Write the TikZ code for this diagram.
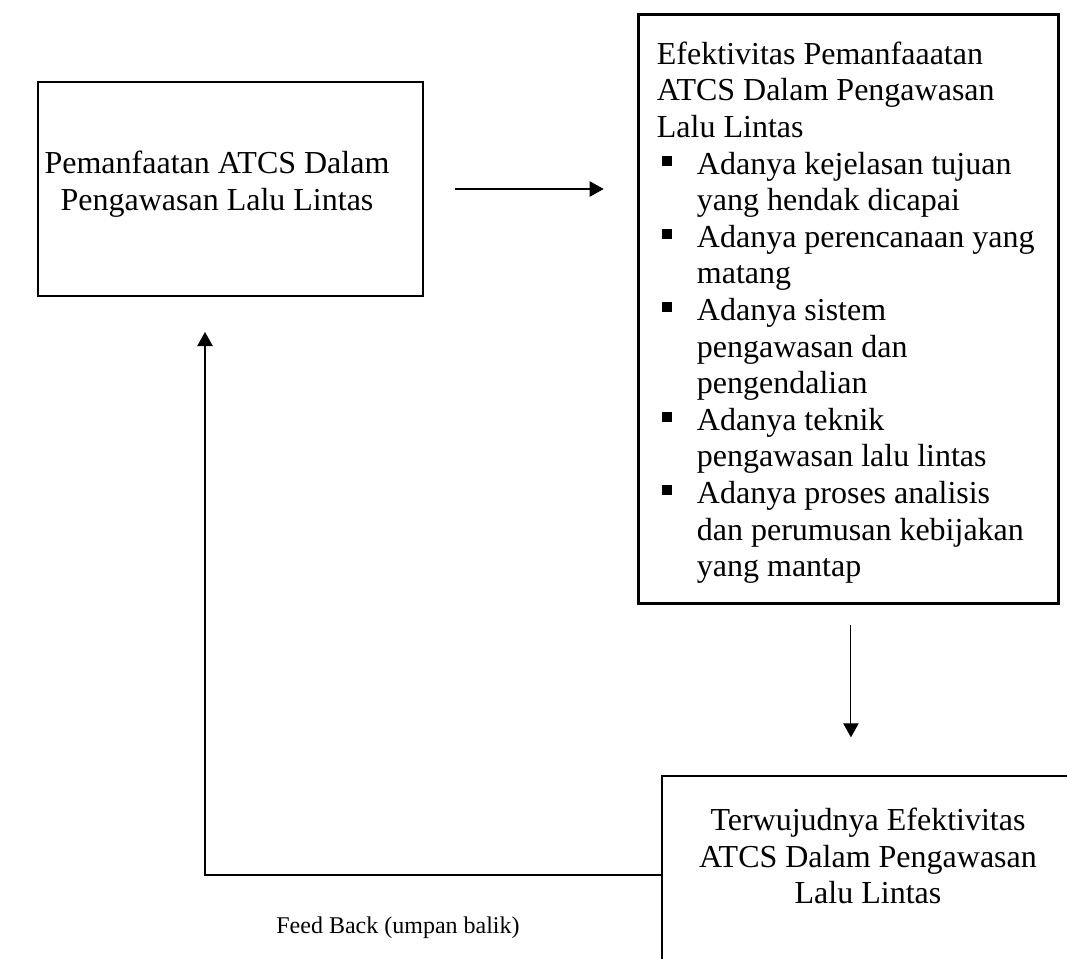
\documentclass[tikz,border=0pt]{standalone}
\usepackage{fontspec}
\setmainfont{Liberation Serif}
\usetikzlibrary{positioning,arrows.meta,calc}
\newcommand{\besar}{\fontsize{24pt}{27.45pt}\selectfont}
\newcommand{\kecil}{\fontsize{18pt}{21pt}\selectfont}
\newcommand{\butir}{\makebox[30pt][l]{\hspace{3.5pt}\rule[6pt]{7.5pt}{7.5pt}}}
\newcommand{\lanjut}{\hspace*{30pt}}

\begin{document}
\begin{tikzpicture}[x=0.75pt, y=-0.75pt, font=\besar,
    kotak/.style={draw, line width=1.9pt},
    panah/.style={line width=0.8pt, -{Triangle[length=10.5pt,width=11.5pt]}},
    garis/.style={line width=0.8pt}]
    \useasboundingbox (0,0) rectangle (1067,959);
    % kotak kiri
    \node[kotak, minimum width=288.75pt, minimum height=160.5pt] (kiri) at (230.5,189) {};
    \node[align=flush center] (teksKiri) at (217,184) {Pemanfaatan ATCS Dalam\\Pengawasan Lalu Lintas};
    % kotak kanan
    \node[kotak, anchor=north west, minimum width=315pt, inner ysep=0pt,
          inner xsep=14pt, text width=287pt, align=flush left] (kanan) at (637,13)
      {\rule{0pt}{37.5pt}Efektivitas Pemanfaaatan\\
       ATCS Dalam Pengawasan\\
       Lalu Lintas\\
       \butir Adanya kejelasan tujuan\\
       \lanjut yang hendak dicapai\\
       \butir Adanya perencanaan yang\\
       \lanjut matang\\
       \butir Adanya sistem\\
       \lanjut pengawasan dan\\
       \lanjut pengendalian\\
       \butir Adanya teknik\\
       \lanjut pengawasan lalu lintas\\
       \butir Adanya proses analisis\\
       \lanjut dan perumusan kebijakan\\
       \lanjut yang mantap\rule[-20.25pt]{0pt}{0pt}};
    % kotak bawah (terpotong di tepi gambar)
    \coordinate (bawahKiri) at (662,776);
    \draw[kotak] (1075,776) -- (bawahKiri) -- (662,965);
    \node[align=flush center] (bawah) at (868,856)
      {Terwujudnya Efektivitas\\ATCS Dalam Pengawasan\\Lalu Lintas};
    \coordinate (umpan) at (662,875);
    \coordinate (balik) at (205,296);
    % panah
    \draw[panah, shorten <=23pt, shorten >=25pt] (kiri.east) -- (kiri.east -| kanan.west);
    \draw[panah, shorten <=15pt, shorten >=29pt] ([xshift=2pt]kanan.south) -- ([xshift=2pt]kanan.south |- bawahKiri);
    \draw[panah, shorten >=27pt] (umpan) -| (balik);
    \node[font=\kecil] (label) at (398,928) {Feed Back (umpan balik)};
\end{tikzpicture}
\end{document}
